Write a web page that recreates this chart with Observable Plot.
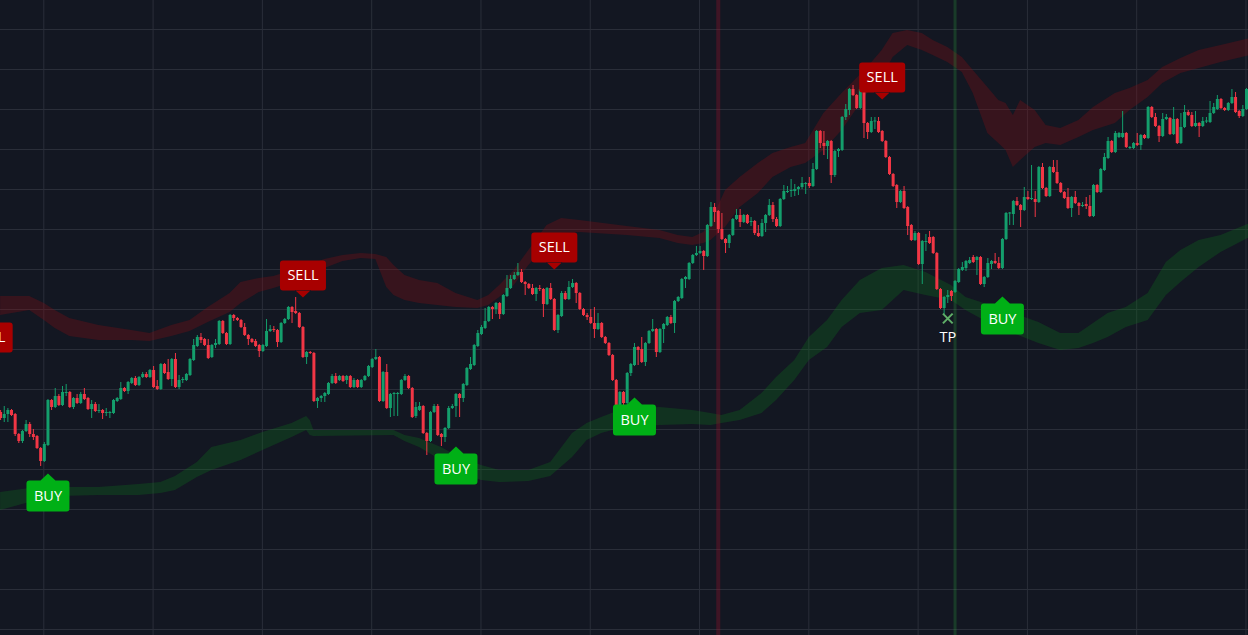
<!DOCTYPE html>
<html>
<head>
<meta charset="utf-8">
<script src="https://cdn.jsdelivr.net/npm/d3@7"></script>
<script src="https://cdn.jsdelivr.net/npm/@observablehq/plot@0.6"></script>
<style>
  html, body { margin: 0; padding: 0; background: #131722; overflow: hidden; }
  #chart svg { display: block; }
</style>
</head>
<body>
<div id="chart"></div>
<script>
// ---- Candles (price units; one entry per bar, 343 bars) ----
const open = [
  217,211,215,219,215,195,188,198,205,195,
  193,181,168,184,229,222,233,224,236,237,
  222,231,226,235,231,220,225,218,219,216,
  216,216,228,230,241,238,246,251,244,252,
  255,252,259,243,240,265,257,250,270,242,
  249,249,254,269,283,292,290,284,272,284,
  285,308,296,285,314,311,309,302,294,290,
  288,284,278,283,298,300,299,287,306,310,
  322,318,316,302,272,277,276,228,231,233,
  235,246,253,249,253,249,253,242,249,242,
  249,253,262,270,272,228,257,221,235,235,
  235,249,253,241,213,219,223,196,188,217,
  223,195,192,201,221,223,235,231,244,260,
  264,283,295,301,308,322,320,326,315,333,
  341,350,354,357,347,345,341,335,341,340,
  325,341,330,299,313,336,330,342,346,336,
  320,314,312,306,300,306,292,286,274,249,
  222,237,226,256,264,282,280,267,286,298,
  300,277,300,304,312,306,328,331,350,350,
  366,374,376,378,373,403,422,418,400,390,
  386,394,410,414,407,414,407,408,396,393,
  406,414,424,410,403,430,437,438,438,440,
  442,445,446,443,460,498,486,483,488,454,
  478,479,512,519,540,534,521,540,506,497,
  507.5,508,498,488,472,455,444,427,438,422,
  404,389,396,365,387,392,392,376,340,321,
  332,338,337,347,359,361,366,372,369,372,
  345,352,365,368,366,361,390,415.5,415,428,
  424,419,432,430,430,427,462,441,433,462,
  457,446,437,432,421,432,426,423,425,423,
  413,444,437,459,471,488,477,492,492,496,
  481,481,486,484,494,491,522,512,503,493,
  510,511,495,510,486,502,517,514,503,506,
  503,507.5,507,516,520,530,521,519,526,532,
  518,513,520
];
const high = [
  219,223,221,220,216,196,199,209,207,200,
  194,182,187,230,230,241,235,243,245,238,
  232,235,237,241,232,229,227,225,220,221,
  218,230,232,247,242,248,252,253,253,257,
  257,260,263,249,266,266,270,271,276,254,
  252,256,271,290,294,296,291,290,285,290,
  309,309,297,315,315,312,310,306,295,291,
  290,285,285,310,304,303,300,307,311,323,
  323,332,317,303,278,278,277,232,234,237,
  247,255,256,254,254,254,254,251,250,250,
  254,264,271,280,273,258,265,236,237,237,
  250,255,254,242,227,227,224,197,218,225,
  225,196,202,223,225,236,236,246,262,272,
  285,299,304,321,323,323,327,327,335,354,
  354,357,366,360,348,346,345,342,344,341,
  342,346,331,315,338,338,348,350,347,337,
  321,316,320,322,316,307,293,287,275,250,
  238,238,257,266,286,283,292,287,299,310,
  301,301,306,313,314,329,333,351,353,367,
  375,383,383,379,405,427,426,419,416,391,
  395,411,420,420,415,415,412,409,404,410,
  415,430,427,412,431,444,443,450,445,443,
  452,447,452,466,499,499,498,489,489,479,
  481,513,525,541,544,535,542,541,507,512,
  512,512,499,489,473,456,445,439,443,423,
  405,398,397,389,395,398,393,377,341,333,
  339,339,349,361,367,369,372,374,373,373,
  353,371,369,376,372,391,417,417,429,432,
  425,442,438,464,438,463,466,442,463,469,
  469,447,438,441,433,438,427,427,432,434,
  445,445,461,476,492,489,498,497,518,497,
  483,487,496,495,495,523,523,516,504,516,
  515,512,522,511,516,524,519,517,518,507,
  512,512,528,526,534,531,522,527,540,537,
  519,524,541
];
const low = [
  209,207,207,213,193,186,186,197,192,189,
  180,163,167,183,219,221,223,223,233,221,
  220,225,225,229,219,211,217,216,210,213,
  211,215,227,229,237,235,245,243,243,251,
  251,251,241,239,239,255,249,243,241,240,
  246,248,253,268,282,286,283,270,271,281,
  284,295,284,284,308,308,301,293,284,286,
  282,272,277,282,297,297,282,286,305,309,
  306,315,301,271,265,275,227,221,227,227,
  234,245,245,248,247,245,241,241,241,241,
  248,252,261,269,227,227,220,212,213,213,
  234,248,240,211,211,218,195,174,187,216,
  193,183,187,200,220,212,212,227,243,259,
  263,282,294,300,307,310,315,310,314,332,
  340,349,353,346,334,340,334,328,338,312,
  324,329,298,296,312,329,329,341,326,319,
  313,309,305,291,299,291,285,273,248,222,
  216,216,217,253,263,264,266,263,285,297,
  272,276,286,303,305,296,327,330,341,349,
  365,373,375,359,372,402,407,396,389,376,
  381,393,409,402,406,405,403,394,392,392,
  397,413,407,402,402,429,436,432,433,434,
  440,435,441,442,459,481,474,470,446,452,
  472,478,509,514,533,520,520,491,490,496,
  500,496,487,471,454,442,421,426,420,394,
  388,388,364,345,378,385,375,339,320,315,
  326,328,336,346,358,358,365,366,354,344,
  342,351,360,365,360,360,389,404,404,423,
  402,418,429,429,412,426,440,432,432,456,
  445,436,430,420,412,425,414,422,420,412,
  412,436,436,458,470,476,476,491,491,481,
  480,480,483,479,490,490,511,502,487,492,
  509,494,494,485,485,501,513,502,502,492,
  502,506,506,515,519,520,518,518,525,516,
  511,512,519
];
const close = [
  211,215,219,214,195,188,198,205,195,192,
  181,168,185,229,222,233,224,237,237,222,
  231,226,235,230,220,225,218,219,216,217,
  217,229,231,241,238,247,251,244,252,255,
  252,259,242,240,265,256,250,270,242,249,
  250,255,270,284,292,289,284,271,284,286,
  308,296,285,314,311,309,302,294,290,287,
  283,278,284,298,300,299,287,306,310,322,
  317,316,302,272,277,276,228,231,233,236,
  246,253,246,253,248,253,242,249,242,249,
  253,263,270,272,228,257,221,235,236,236,
  249,253,241,212,222,223,196,188,217,223,
  194,192,201,221,223,235,231,245,261,265,
  284,296,302,308,322,320,326,315,334,341,
  350,354,357,347,345,341,335,341,340,325,
  341,330,299,314,336,330,342,346,336,320,
  314,312,306,300,306,292,286,274,249,223,
  237,226,256,265,282,279,267,286,298,300,
  277,300,305,312,306,328,332,350,352,366,
  374,376,378,373,404,422,417,400,390,386,
  394,410,414,407,414,406,408,396,393,406,
  414,424,410,403,430,438,438,439,440,442,
  446,446,443,460,498,486,483,488,454,478,
  480,512,520,540,534,521,540,506,497,508,
  508.5,497,488,472,455,443,427,438,421,403,
  389,396,365,388,388,386,376,340,321,332,
  334,333,348,360,362,368,369,367,372,345,
  352,366,368,366,361,390,416,416.5,428,424,
  419,432,430,431,427,462,441,433,462,457,
  446,437,431,421,432,426,423,424,423,413,
  444,437,460,472,488,477,496,496,496,482,
  482,486,484,494,491,522,512,503,493,510,
  512,495,510,486,502,517,514,503,506,503,
  508,508.5,516,522,530,521,519,526,532,517,
  513,520,540
];

// ---- Upper (red) band: bar position, top and bottom ----
const redBandX   = [0,8,12,15,19,27,36,41,47,52,57,63,66,71,75,82,89,94,99,103,106,108,111,115,120,125,131,134,137,141,145,150,154,159,172,181,186,190,193,195,199,203,208,212,217,221,226,231,238,242,245,249,253,256,260,264,267,271,274,276,278,280,284,287,291,296,300,306,310,315,319,324,329,335,343];
const redBandTop = [333,333,326,319,311,304,299,296,304,309,322,336,347,351,353,361,370,374,376,375,372,364,354,349,346,336,329,334,344,359,379,404,411,409,403,399,394,392,397,407,439,452,466,476,482,486,516,536,562,579,596,599,596,589,582,572,559,542,529,526,514,529,519,504,501,509,522,536,541,549,562,571,579,584,591];
const redBandBot = [314,319,309,301,293,289,289,288,293,298,307,317,326,337,341,349,361,368,371,370,342,334,329,326,324,322,321,324,332,344,364,384,396,397,394,391,386,384,386,389,402,422,436,452,462,466,479,499,536,552,572,584,579,574,567,557,536,496,486,479,462,469,482,486,484,492,499,506,519,532,546,556,561,567,574];

// ---- Lower (green) band ----
const greenBandX   = [0,8,16,27,38,44,48,54,58,66,72,80,84,85,86,108,111,115,121,126,132,137,145,151,157,161,165,170,181,190,195,198,203,209,213,218,222,227,231,236,242,248,254,261,265,270,278,285,291,296,300,304,309,315,320,324,329,335,343];
const greenBandTop = [137,141,142,142,145,147,153,167,182,189,197,206,213,209,199,199,194,191,182,172,164,159,159,167,196,206,212,219,222,219,216,214,219,236,252,269,292,309,329,349,361,364,357,344,332,326,316,307,296,296,306,316,322,336,367,379,389,394,406];
const greenBandBot = [119,127,133,134,134,136,139,152,159,169,179,192,199,194,193,194,188,182,169,157,149,147,148,153,172,189,196,201,204,205,204,206,209,216,229,249,269,282,302,316,319,339,334,329,319,309,296,286,279,281,286,292,302,309,334,347,362,377,392];

// ---- Signals ----
const sellX = [-3, 83, 152, 242];
const sellPrice = [270, 332, 360, 530];
const buyX = [13, 125, 174, 275];
const buyPrice = [156, 183, 232, 333];
const tpX = [260];
const tpPrice = [311];
const redMarkerX = [197];
const greenMarkerX = [262];

// ---- Grid ----
const timeTicks = [11.86, 41.86, 71.86, 101.86, 131.86, 161.86, 191.86, 221.86, 251.86, 281.86, 311.86, 341.86];
const priceTicks = [0, 40, 80, 120, 160, 200, 240, 280, 320, 360, 400, 440, 480, 520, 560, 600];

const UP = "#149e6c", DOWN = "#f23645";
const bars = d3.range(open.length);
const barColor = bars.map(i => close[i] >= open[i] ? UP : DOWN);

function roundedBox(ctx, x0, y0, x1, y1, r) {
  ctx.moveTo(x0 + r, y0);
  ctx.lineTo(x1 - r, y0); ctx.arcTo(x1, y0, x1, y0 + r, r);
  ctx.lineTo(x1, y1 - r); ctx.arcTo(x1, y1, x1 - r, y1, r);
  ctx.lineTo(x0 + r, y1); ctx.arcTo(x0, y1, x0, y1 - r, r);
  ctx.lineTo(x0, y0 + r); ctx.arcTo(x0, y0, x0 + r, y0, r);
  ctx.closePath();
}
const sellShape = { draw(ctx) {
  roundedBox(ctx, -23, -37, 23, -7, 3);
  ctx.moveTo(-8, -7.5); ctx.lineTo(0, 0); ctx.lineTo(8, -7.5); ctx.closePath();
}};
const buyShape = { draw(ctx) {
  roundedBox(ctx, -21.5, 7, 21.5, 38, 3);
  ctx.moveTo(-8, 7.5); ctx.lineTo(0, 0); ctx.lineTo(8, 7.5); ctx.closePath();
}};

const chart = Plot.plot({
  width: 1248,
  height: 635,
  margin: 0,
  x: { domain: [-0.027, 342.55], axis: null },
  y: { domain: [-6, 629], axis: null },
  style: { background: "#131722", fontFamily: "'Open Sans', sans-serif" },
  marks: [
    Plot.ruleX(timeTicks, { stroke: "#2a2e39", strokeWidth: 1 }),
    Plot.ruleY(priceTicks, { stroke: "#2a2e39", strokeWidth: 1 }),
    Plot.areaY(redBandX, { x: redBandX, y1: redBandBot, y2: redBandTop, fill: "#8a0d14", fillOpacity: 0.3 }),
    Plot.areaY(greenBandX, { x: greenBandX, y1: greenBandBot, y2: greenBandTop, fill: "#0f7a1c", fillOpacity: 0.28 }),
    Plot.ruleX(redMarkerX, { stroke: "#a0142a", strokeOpacity: 0.32, strokeWidth: 4 }),
    Plot.ruleX(greenMarkerX, { stroke: "#2a9a3c", strokeOpacity: 0.28, strokeWidth: 3 }),
    Plot.ruleX(bars, { x: bars, y1: low, y2: high, stroke: barColor, strokeWidth: 1 }),
    Plot.ruleX(bars, { x: bars, y1: open, y2: close, stroke: barColor, strokeWidth: 3 }),
    Plot.dot(sellX, { x: sellX, y: sellPrice, symbol: sellShape, r: 5, fill: "#a80000", stroke: "none" }),
    Plot.text(sellX, { x: sellX, y: sellPrice, text: () => "SELL", dy: -22, fill: "#ffffff", fontSize: 14.5 }),
    Plot.dot(buyX, { x: buyX, y: buyPrice, symbol: buyShape, r: 5, fill: "#00b016", stroke: "none" }),
    Plot.text(buyX, { x: buyX, y: buyPrice, text: () => "BUY", dy: 23, fill: "#ffffff", fontSize: 14.5 }),
    Plot.dot(tpX, { x: tpX, y: tpPrice, symbol: "times", r: 4.5, stroke: "#5fae68", strokeWidth: 2 }),
    Plot.text(tpX, { x: tpX, y: tpPrice, text: () => "TP", dy: 19, fill: "#ffffff", fontSize: 14.5 })
  ]
});
document.getElementById("chart").appendChild(chart);
</script>
</body>
</html>
